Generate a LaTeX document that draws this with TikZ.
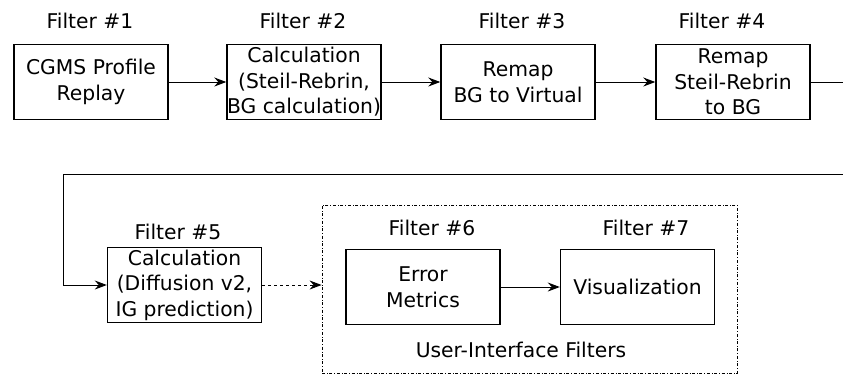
\documentclass[tikz,border=0pt]{standalone}
\usepackage{fontspec}
\setmainfont{DejaVu Sans}
\usetikzlibrary{arrows.meta,positioning}

\begin{document}
\begin{tikzpicture}[x=1pt, y=-1pt, auto,
    font=\fontsize{20.3}{25.5}\selectfont,
    filterbox/.style={rectangle, draw, line width=1.4pt, minimum width=154pt, minimum height=75pt, inner sep=0pt, align=center},
    filtername/.style={inner sep=0pt},
    flow/.style={line width=1pt, -{Stealth[length=12pt, width=9pt, inset=4pt]}}]

        \useasboundingbox (0,0) rectangle (843,376);
        \clip (0,0) rectangle (843,376);

        % Верхний ряд фильтров
        \node[filterbox] (F1) at (91,82) {CGMS Profile\\Replay};
        \node[filterbox] (F2) at (304,82) {Calculation\\(Steil-Rebrin,\\BG calculation)};
        \node[filterbox] (F3) at (518,82) {Remap\\BG to Virtual};
        \node[filterbox] (F4) at (733,82) {Remap\\Steil-Rebrin\\to BG};

        % Нижний ряд и блок интерфейса
        \node[draw, dash dot, line width=0.8pt, minimum width=415pt, minimum height=168pt, inner sep=0pt] (UI) at (529.5,289) {};
        \node[filterbox] (F5) at (184.5,285) {Calculation\\(Diffusion v2,\\IG prediction)};
        \node[filterbox] (F6) at (423,287) {Error\\Metrics};
        \node[filterbox] (F7) at (637.5,287) {Visualization};
        \node[filtername] (UIname) at (521,350) {User-Interface Filters};

        % Подписи фильтров
        \node[filtername] (L1) at (90,21) {Filter \#1};
        \node[filtername] (L2) at (303,21) {Filter \#2};
        \node[filtername] (L3) at (522,21) {Filter \#3};
        \node[filtername] (L4) at (722,21) {Filter \#4};
        \node[filtername] (L5) at (178,232) {Filter \#5};
        \node[filtername] (L6) at (432,228) {Filter \#6};
        \node[filtername] (L7) at (646,228) {Filter \#7};

        % Соединения
        \draw[flow] (F1) -- (F2);
        \draw[flow] (F2) -- (F3);
        \draw[flow] (F3) -- (F4);
        \draw[flow] (F4.east) -| (860,174) -- (63,174) |- (F5.west);
        \draw[flow, dashed] (F5.east) -- (F5.east -| UI.west);
        \draw[flow] (F6) -- (F7);

    \end{tikzpicture}
\end{document}
